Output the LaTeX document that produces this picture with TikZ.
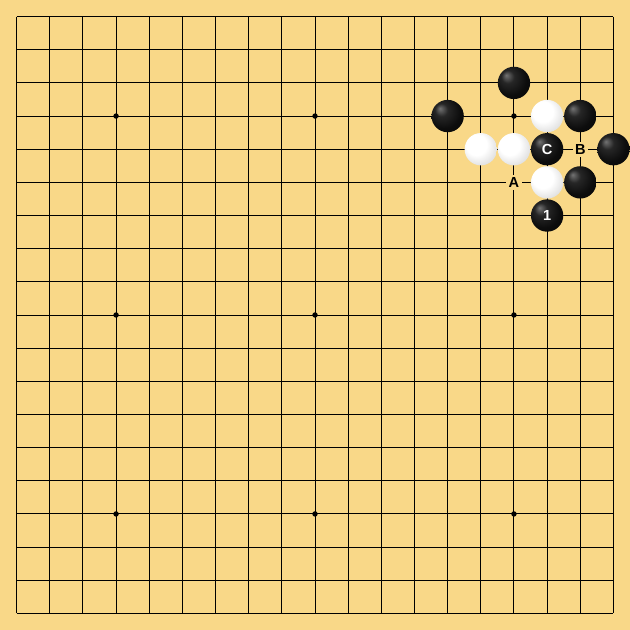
\documentclass[tikz,border=0pt]{standalone}
\usepackage{fontspec}
\setsansfont{Liberation Sans}
\definecolor{board}{RGB}{249,216,136}
\pgfdeclareradialshading{blackstone}{\pgfpoint{-12bp}{12bp}}{color(0bp)=(black!55); color(10bp)=(black!85); color(25bp)=(black!95); color(50bp)=(black)}
\pgfdeclareradialshading{whitestone}{\pgfpoint{-10bp}{10bp}}{color(0bp)=(white); color(16bp)=(white); color(30bp)=(black!12); color(45bp)=(black!36); color(50bp)=(black!42)}

\begin{document}
\begin{tikzpicture}[x=0.6cm,y=-0.6cm,line width=0.5pt,
                    stone/.style={circle,inner sep=0pt,minimum size=0.585cm,shade},
                    black stone/.style={stone,shading=blackstone,text=white,
                      font=\sffamily\bfseries\fontsize{7.5}{8}\selectfont},
                    white stone/.style={stone,shading=whitestone},
                    point label/.style={fill=board,inner sep=1.2pt,
                      font=\sffamily\bfseries\fontsize{7.5}{8}\selectfont}]
\fill[board] (-0.5,-0.5) rectangle (18.5,18.5);
\useasboundingbox (-0.5,-0.5) rectangle (18.5,18.5);
% grid
\foreach \i in {0,...,18}{
  \draw (\i,0) -- (\i,18);
  \draw (0,\i) -- (18,\i);
}
% star points
\foreach \x in {3,9,15}
  \foreach \y in {3,9,15}
    \fill (\x,\y) circle (1.4pt);

% stones
\node[black stone] (1) at (15,2) {};
\node[black stone] (2) at (13,3) {};
\node[white stone] (3) at (16,3) {};
\node[black stone] (4) at (17,3) {};
\node[white stone] (5) at (14,4) {};
\node[white stone] (6) at (15,4) {};
\node[black stone] (7) at (16,4) {C};
\node[black stone] (8) at (18,4) {};
\node[white stone] (9) at (16,5) {};
\node[black stone] (10) at (17,5) {};
\node[black stone] (11) at (16,6) {1};
% empty points
\node[point label] (A) at (15,5) {A};
\node[point label] (B) at (17,4) {B};

\end{tikzpicture}
\end{document}
